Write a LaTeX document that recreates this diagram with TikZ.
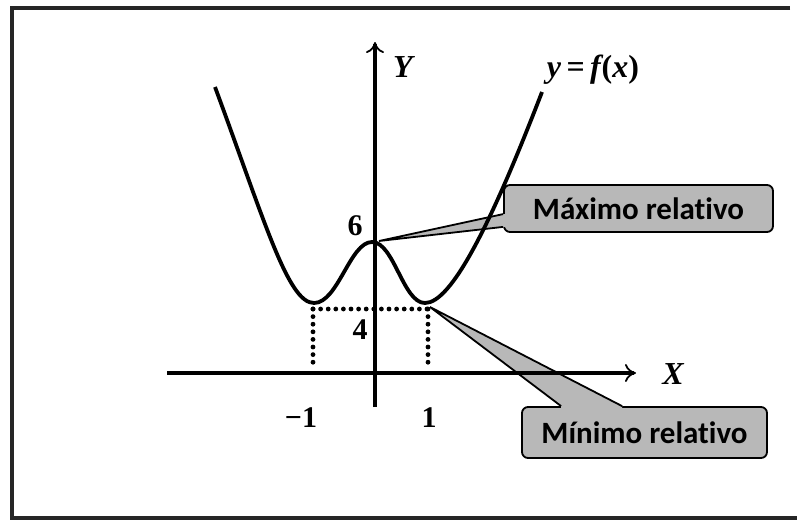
\documentclass[tikz,border=0pt]{standalone}
\usepackage{fontspec}
\usetikzlibrary{arrows.meta,calc}
\newfontfamily\lserif{Liberation Serif}
\newfontfamily\calib[Ligatures=NoCommon]{Carlito}
\begin{document}
\begin{tikzpicture}[x=1pt,y=-1pt,
  frame/.style={line width=3.5pt,black!85},
  axis/.style={line width=3.2pt,black,-{To[length=11pt,width=18pt,line width=1.8pt]}},
  curve/.style={line width=3.8pt,black},
  dots/.style={line width=4.8pt,black,line cap=round,dash pattern=on 0pt off 7.6pt},
  callbox/.style={draw=black,line width=1.8pt,fill=black!28,rounded corners=6pt,inner sep=0pt,
    font=\calib\bfseries\fontsize{31}{31}\selectfont},
  ptrfill/.style={fill=black!28},
  ptrline/.style={draw=black,line width=1.8pt},
  lbl/.style={font=\lserif\bfseries\itshape\fontsize{32}{32}\selectfont,inner sep=0pt},
  num/.style={font=\lserif\bfseries\fontsize{30}{30}\selectfont,inner sep=0pt}]
\useasboundingbox (0,0) rectangle (797,525);
\fill[white] (0,0) rectangle (797,525);
% frame (top, left, bottom)
\coordinate (f1) at (790,8);
\coordinate (f2) at (12,8);
\coordinate (f3) at (12,518);
\coordinate (f4) at (797,518);
\draw[frame] (f1) -- (f2) -- (f3) -- (f4);
% callout boxes
\node[callbox,minimum width=269pt,minimum height=47pt] (maxbox) at (638.5,208.5) {Máximo relativo};
\node[callbox,minimum width=245pt,minimum height=51pt] (minbox) at (644.5,432.5) {Mínimo relativo};
% extremum points
\coordinate (pmax) at (379,241);
\coordinate (pmin) at (430,307);
% pointer of maximum
\coordinate (ma) at ($(maxbox.north west)+(0,30)$);
\coordinate (mb) at ($(maxbox.south west)+(0,-6)$);
\fill[ptrfill] (pmax) -- (ma) -- ($(ma)+(3,0)$) -- ($(mb)+(3,0)$) -- (mb) -- cycle;
\draw[ptrline] (ma) -- (pmax) -- (mb);
% pointer of minimum
\coordinate (na) at ($(minbox.north west)+(40,0)$);
\coordinate (nb) at ($(minbox.north west)+(101,0)$);
\fill[ptrfill] (pmin) -- (na) -- ($(na)+(0,3)$) -- ($(nb)+(0,3)$) -- (nb) -- cycle;
\draw[ptrline] (na) -- (pmin) -- (nb);
% axes
\coordinate (xs) at (167,373);
\coordinate (xe) at (636,373);
\coordinate (ys) at (375,407);
\coordinate (ye) at (375,42);
\draw[axis] (xs) -- (xe);
\draw[axis] (ys) -- (ye);
% dotted guides
\coordinate (d1) at (313,309);
\coordinate (d2) at (428,309);
\coordinate (d3) at (313,366);
\coordinate (d4) at (428,366);
\draw[dots] (d1) -- (d2);
\draw[dots] (d1) -- (d3);
\draw[dots] (d2) -- (d4);
% curve
\coordinate (c0) at (215,87);
\coordinate (c1) at (314,303);
\coordinate (c2) at (372,242);
\coordinate (c3) at (425,303);
\coordinate (c4) at (542,92);
\draw[curve] (c0) .. controls (265,222) and (288,303) .. (c1)
  .. controls (338,303) and (350,242) .. (c2)
  .. controls (394,242) and (403,303) .. (c3)
  .. controls (451,303) and (490,227) .. (c4);
% labels
\node[lbl] (ly) at (403,67) {Y};
\node[lbl] (lx) at (673,374) {X};
\node[lbl] (lf) at (593,70) {y\,{\upshape =}\,f\kern1pt{\upshape(}x{\upshape)}};
\node[num] (n6) at (355,226) {6};
\node[num] (n4) at (360,330) {4};
\node[num] (nm1) at (301,418) {−1};
\node[num] (n1) at (429,418) {1};
\end{tikzpicture}
\end{document}
